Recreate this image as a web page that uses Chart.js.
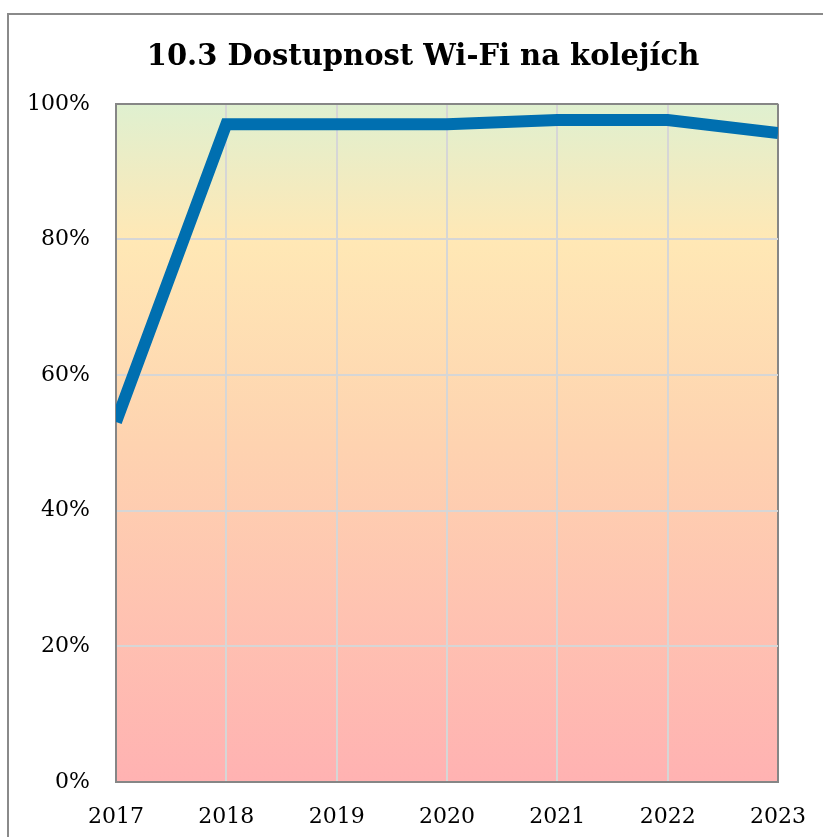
<!DOCTYPE html>
<html lang="cs">
<head>
<meta charset="utf-8">
<script src="https://cdn.jsdelivr.net/npm/chart.js@4/dist/chart.umd.min.js"></script>
<style>
    html, body { margin: 0; padding: 0; background: #fff; }
    #wrap { position: relative; width: 823px; height: 837px; overflow: hidden; }
    #frame { position: absolute; left: 7px; top: 13px; right: -10px; bottom: -10px;
             border-left: 2px solid #8a8a8a; border-top: 2px solid #8a8a8a; }
    canvas { position: absolute; left: 0; top: 0; }
</style>
</head>
<body>
<div id="wrap">
    <div id="frame"></div>
    <canvas id="wifiChart" width="823" height="837"></canvas>
</div>
<script>
// roky a podíl kolejí s Wi-Fi (%)
const years = ['2017', '2018', '2019', '2020', '2021', '2022', '2023'];
const wifiShare = [53.1, 97.0, 97.0, 97.0, 97.6, 97.6, 95.7];
const yTicks = [0, 20, 40, 60, 80, 100];

const plotBorder = '#868686';
const gridColor = '#d6d6d6';
const serif = '"DejaVu Serif", serif';

// barevný přechod pozadí grafu (zelená -> žlutá -> růžová)
const backgroundGradient = {
    id: 'backgroundGradient',
    afterLayout(chart) {
        // nadpis je vycentrovaný na celý rámeček, ne na oblast grafu
        if (chart.titleBlock) {
            chart.titleBlock.left += 34;
            chart.titleBlock.right += 34;
        }
    },
    beforeDraw(chart) {
        const { ctx, chartArea: a } = chart;
        const g = ctx.createLinearGradient(0, a.top, 0, a.bottom);
        g.addColorStop(0, '#dff0d0');
        g.addColorStop(0.2, '#ffe8b5');
        g.addColorStop(0.5, '#fed3b0');
        g.addColorStop(1, '#ffb2b2');
        ctx.save();
        ctx.fillStyle = g;
        ctx.fillRect(a.left, a.top, a.right - a.left, a.bottom - a.top);
        ctx.restore();
    }
};

new Chart(document.getElementById('wifiChart'), {
    type: 'line',
    data: {
        labels: years,
        datasets: [{
            data: wifiShare,
            borderColor: '#006fb0',
            borderWidth: 12,
            borderCapStyle: 'butt',
            borderJoinStyle: 'miter',
            pointRadius: 0,
            tension: 0,
            fill: false,
            clip: 0
        }]
    },
    options: {
        responsive: false,
        animation: false,
        layout: { padding: { left: 0, right: 45, top: 0, bottom: 0 } },
        plugins: {
            legend: { display: false },
            tooltip: { enabled: false },
            title: {
                display: true,
                text: '10.3 Dostupnost Wi-Fi na kolejích',
                color: '#000',
                font: { family: serif, size: 29, weight: 'bold', lineHeight: 1.2 },
                padding: { top: 40, bottom: 29 }
            }
        },
        scales: {
            x: {
                offset: false,
                grid: {
                    drawTicks: false,
                    lineWidth: 2,
                    color: ctx => ctx.index === years.length - 1 ? plotBorder : gridColor
                },
                border: { color: plotBorder, width: 2 },
                ticks: {
                    color: '#000',
                    padding: 22,
                    maxRotation: 0,
                    font: { family: serif, size: 22 }
                },
                afterFit: scale => {
                    scale.height = 55;
                    scale.paddingLeft = 0;
                    scale.paddingRight = 0;
                }
            },
            y: {
                min: 0,
                max: 100,
                afterBuildTicks: scale => { scale.ticks = yTicks.map(v => ({ value: v })); },
                grid: {
                    drawTicks: false,
                    lineWidth: 2,
                    color: ctx => ctx.tick && ctx.tick.value === 100 ? plotBorder : gridColor
                },
                border: { color: plotBorder, width: 2 },
                ticks: {
                    color: '#000',
                    padding: 26,
                    font: { family: serif, size: 22 },
                    callback: v => v + '%'
                },
                afterFit: scale => { scale.width = 116; }
            }
        }
    },
    plugins: [backgroundGradient]
});
</script>
</body>
</html>
